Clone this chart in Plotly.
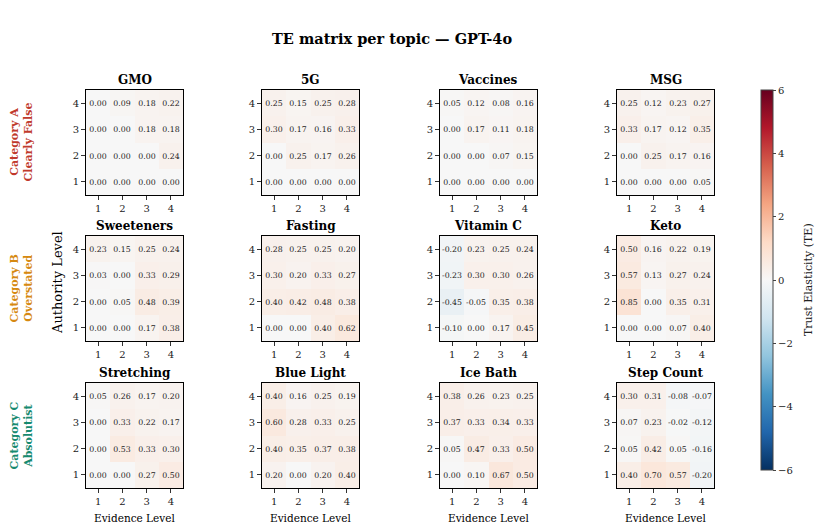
import plotly.graph_objects as go

# ---------------- data ----------------
topics = ["GMO", "5G", "Vaccines", "MSG",
          "Sweeteners", "Fasting", "Vitamin C", "Keto",
          "Stretching", "Blue Light", "Ice Bath", "Step Count"]
evidence_levels = [1, 2, 3, 4]
authority_levels = [1, 2, 3, 4]
tick_labels = ["1", "2", "3", "4"]
row_labels = ["Category A<br>Clearly False", "Category B<br>Overstated", "Category C<br>Absolutist"]
row_colors = ["#c0392b", "#d68910", "#168a6f"]

# rows listed from authority 4 (top) down to authority 1 (bottom); columns evidence 1..4
gmo = [[0.00, 0.09, 0.18, 0.22], [0.00, 0.00, 0.18, 0.18], [0.00, 0.00, 0.00, 0.24], [0.00, 0.00, 0.00, 0.00]]
g5 = [[0.25, 0.15, 0.25, 0.28], [0.30, 0.17, 0.16, 0.33], [0.00, 0.25, 0.17, 0.26], [0.00, 0.00, 0.00, 0.00]]
vaccines = [[0.05, 0.12, 0.08, 0.16], [0.00, 0.17, 0.11, 0.18], [0.00, 0.00, 0.07, 0.15], [0.00, 0.00, 0.00, 0.00]]
msg = [[0.25, 0.12, 0.23, 0.27], [0.33, 0.17, 0.12, 0.35], [0.00, 0.25, 0.17, 0.16], [0.00, 0.00, 0.00, 0.05]]
sweeteners = [[0.23, 0.15, 0.25, 0.24], [0.03, 0.00, 0.33, 0.29], [0.00, 0.05, 0.48, 0.39], [0.00, 0.00, 0.17, 0.38]]
fasting = [[0.28, 0.25, 0.25, 0.20], [0.30, 0.20, 0.33, 0.27], [0.40, 0.42, 0.48, 0.38], [0.00, 0.00, 0.40, 0.62]]
vitamin_c = [[-0.20, 0.23, 0.25, 0.24], [-0.23, 0.30, 0.30, 0.26], [-0.45, -0.05, 0.35, 0.38], [-0.10, 0.00, 0.17, 0.45]]
keto = [[0.50, 0.16, 0.22, 0.19], [0.57, 0.13, 0.27, 0.24], [0.85, 0.00, 0.35, 0.31], [0.00, 0.00, 0.07, 0.40]]
stretching = [[0.05, 0.26, 0.17, 0.20], [0.00, 0.33, 0.22, 0.17], [0.00, 0.53, 0.33, 0.30], [0.00, 0.00, 0.27, 0.50]]
blue_light = [[0.40, 0.16, 0.25, 0.19], [0.60, 0.28, 0.33, 0.25], [0.40, 0.35, 0.37, 0.38], [0.20, 0.00, 0.20, 0.40]]
ice_bath = [[0.38, 0.26, 0.23, 0.25], [0.37, 0.33, 0.34, 0.33], [0.05, 0.47, 0.33, 0.50], [0.00, 0.10, 0.67, 0.50]]
step_count = [[0.30, 0.31, -0.08, -0.07], [0.07, 0.23, -0.02, -0.12], [0.05, 0.42, 0.05, -0.16], [0.40, 0.70, 0.57, -0.20]]

matrices = [gmo, g5, vaccines, msg, sweeteners, fasting, vitamin_c, keto,
            stretching, blue_light, ice_bath, step_count]

# matplotlib RdBu_r
rdbu_r = ["#053061", "#2166ac", "#4393c3", "#92c5de", "#d1e5f0", "#f7f7f7",
          "#fddbc7", "#f4a582", "#d6604d", "#b2182b", "#67001f"]
colorscale = [[i / 10, c] for i, c in enumerate(rdbu_r)]

# ---------------- layout geometry (pixels) ----------------
W, H = 821, 529
FONT = "DejaVu Serif"
col_left = [86, 262, 440, 617]
panel_w = 97
row_top = [90, 236, 383]
panel_h = 105

def px_x(x):
    return x / W

def px_y(y):
    return 1 - y / H

fig = go.Figure()
annotations = []

for i, (name, mat) in enumerate(zip(topics, matrices)):
    r, c = divmod(i, 4)
    idx = i + 1
    xa = "x" if idx == 1 else f"x{idx}"
    ya = "y" if idx == 1 else f"y{idx}"
    z = list(reversed(mat))  # authority 1..4 bottom to top
    fig.add_trace(go.Heatmap(
        z=z, x=evidence_levels, y=authority_levels,
        xaxis=xa, yaxis=ya,
        colorscale=colorscale, zmin=-6, zmax=6,
        showscale=(i == 0),
        texttemplate="%{z:.2f}",
        textfont=dict(family=FONT, size=7.8, color="#222222"),
        hoverinfo="skip",
        colorbar=dict(
            x=px_x(761), xanchor="left", xref="paper", xpad=0,
            y=px_y(280), yanchor="middle", yref="paper", ypad=0,
            len=380 / H, lenmode="fraction",
            thickness=12, outlinewidth=1, outlinecolor="#444",
            tickvals=[-6, -4, -2, 0, 2, 4, 6],
            ticks="outside", ticklen=3, tickcolor="#444",
            tickfont=dict(family=FONT, size=10, color="#222"),
        ),
    ))
    x0 = px_x(col_left[c])
    x1 = px_x(col_left[c] + panel_w)
    y1 = px_y(row_top[r])
    y0 = px_y(row_top[r] + panel_h)
    axis_common = dict(
        showline=True, linecolor="black", linewidth=1, mirror=True,
        ticks="outside", ticklen=4, tickcolor="#333",
        tickvals=[1, 2, 3, 4], ticktext=tick_labels,
        tickfont=dict(family=FONT, size=10, color="#222"),
        showgrid=False, zeroline=False, range=[0.5, 4.5], fixedrange=True,
    )
    fig.layout[f"xaxis{'' if idx == 1 else idx}"] = dict(
        domain=[x0, x1], anchor=ya, **axis_common)
    fig.layout[f"yaxis{'' if idx == 1 else idx}"] = dict(
        domain=[y0, y1], anchor=xa, **axis_common)
    annotations.append(dict(
        text=f"<b>{name}</b>", x=(x0 + x1) / 2, y=y1, xref="paper", yref="paper",
        xanchor="center", yanchor="bottom", yshift=1, showarrow=False,
        font=dict(family=FONT, size=12, color="black")))
    if r == 2:
        annotations.append(dict(
            text="Evidence Level", x=(x0 + x1) / 2, y=px_y(518), xref="paper", yref="paper",
            xanchor="center", yanchor="middle", showarrow=False,
            font=dict(family=FONT, size=10.5, color="black")))

for r in range(3):
    annotations.append(dict(
        text=f"<b>{row_labels[r]}</b>", x=px_x(21), y=px_y(row_top[r] + panel_h / 2),
        xref="paper", yref="paper", xanchor="center", yanchor="middle",
        textangle=-90, showarrow=False,
        font=dict(family=FONT, size=11, color=row_colors[r])))

annotations.append(dict(
    text="Authority Level", x=px_x(57), y=px_y(283), xref="paper", yref="paper",
    xanchor="center", yanchor="middle", textangle=-90, showarrow=False,
    font=dict(family=FONT, size=13, color="black")))

annotations.append(dict(
    text="Trust Elasticity (TE)", x=px_x(808), y=px_y(280), xref="paper", yref="paper",
    xanchor="center", yanchor="middle", textangle=-90, showarrow=False,
    font=dict(family=FONT, size=11, color="#222")))

annotations.append(dict(
    text="<b>TE matrix per topic — GPT-4o</b>", x=px_x(392), y=px_y(38),
    xref="paper", yref="paper", xanchor="center", yanchor="middle", showarrow=False,
    font=dict(family=FONT, size=14.5, color="black")))

fig.update_layout(
    width=W, height=H,
    margin=dict(l=0, r=0, t=0, b=0),
    paper_bgcolor="white", plot_bgcolor="white",
    annotations=annotations,
    showlegend=False,
)

fig.write_html("out.html")
